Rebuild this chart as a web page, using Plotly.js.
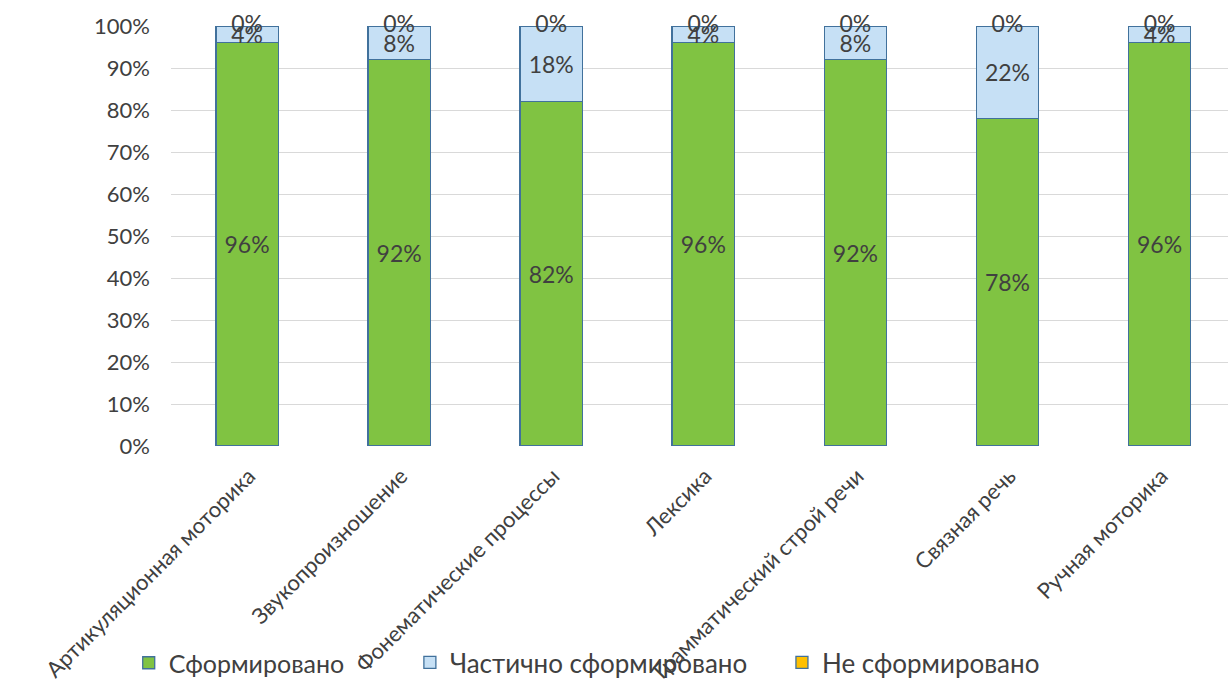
<!DOCTYPE html>
<html><head><meta charset="utf-8">
<script src="https://cdn.plot.ly/plotly-3.0.1.min.js"></script>
<style>html,body{margin:0;padding:0;background:#fff;}#chart{width:1228px;height:686px;}</style>
</head><body><div id="chart"></div>
<script>
const categories = ["Артикуляционная моторика","Звукопроизношение","Фонематические процессы","Лексика","Грамматический строй речи","Связная речь","Ручная моторика"];
const formed = [96, 92, 82, 96, 92, 78, 96];
const partly = [4, 8, 18, 4, 8, 22, 4];
const notFormed = [0, 0, 0, 0, 0, 0, 0];
const seriesNames = ["Сформировано", "Частично сформировано", "Не сформировано"];

const FONT = "Lato, 'Open Sans', sans-serif";
const TXT = "#404040";
const edge = {color: "#41719C", width: 1.3};

const totals = categories.map((c, i) => formed[i] + partly[i] + notFormed[i]);

const traces = [
  {type: "bar", name: seriesNames[0], legend: "legend", x: categories, y: formed,
   marker: {color: "#80C342", line: edge}, width: 0.41,
   text: formed.map(v => v + "%"), textposition: "inside", insidetextanchor: "middle",
   textangle: 0, constraintext: "none", textfont: {family: FONT, size: 23, color: TXT}, hoverinfo: "none"},
  {type: "bar", name: seriesNames[1], legend: "legend2", x: categories, y: partly,
   marker: {color: "#C6E0F5", line: edge}, width: 0.41,
   text: partly.map(v => v + "%"), textposition: "inside", insidetextanchor: "middle",
   textangle: 0, constraintext: "none", textfont: {family: FONT, size: 23, color: TXT}, hoverinfo: "none"},
  {type: "bar", name: seriesNames[2], legend: "legend3", x: categories, y: notFormed,
   marker: {color: "#FFC000", line: edge}, width: 0.41, hoverinfo: "none"},
  {type: "scatter", mode: "text", x: categories, y: totals, showlegend: false,
   text: notFormed.map(v => v + "%"), textposition: "middle center",
   textfont: {family: FONT, size: 23, color: TXT}, hoverinfo: "none", cliponaxis: false}
];

const legendBase = {orientation: "h", xanchor: "left", y: -0.517, yanchor: "middle",
  bgcolor: "rgba(0,0,0,0)", font: {family: FONT, size: 26, color: TXT}};

const layout = {
  width: 1228, height: 686,
  margin: {l: 171, r: 0, t: 26, b: 240},
  barmode: "stack",
  paper_bgcolor: "#fff", plot_bgcolor: "#fff",
  font: {family: FONT, color: TXT},
  showlegend: true,
  legend: Object.assign({}, legendBase, {x: -0.04, font: {family: FONT, size: 25, color: TXT}}),
  legend2: Object.assign({}, legendBase, {x: 0.226}),
  legend3: Object.assign({}, legendBase, {x: 0.578}),
  xaxis: {range: [-0.5, 6.45], tickangle: -45, tickfont: {family: FONT, size: 22, color: TXT},
          showgrid: false, zeroline: false, showline: false, ticks: "", fixedrange: true,
          ticklabelshift: 2, ticklabelstandoff: 12},
  yaxis: {range: [0, 100], dtick: 10, ticksuffix: "%", tickfont: {family: FONT, size: 22, color: TXT},
          showgrid: true, gridcolor: "#D9D9D9", gridwidth: 1, zeroline: false, showline: false,
          ticks: "", ticklabelstandoff: 20, fixedrange: true}
};

Plotly.newPlot("chart", traces, layout, {displayModeBar: false, staticPlot: true});
</script></body></html>
